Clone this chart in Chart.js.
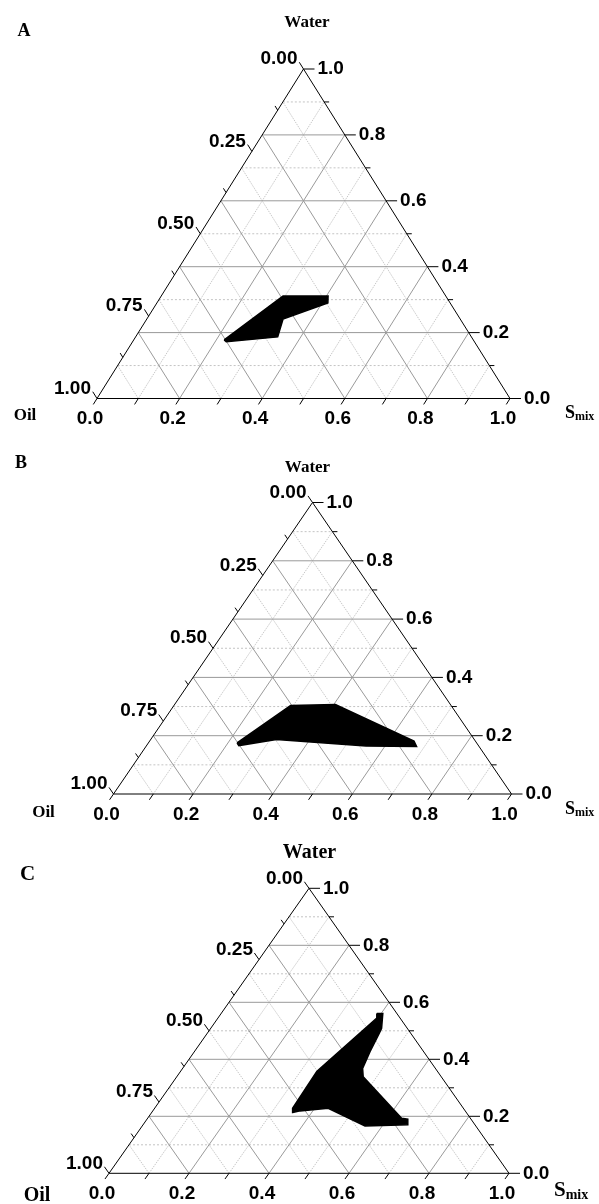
<!DOCTYPE html>
<html>
<head>
<meta charset="utf-8">
<script src="https://cdn.jsdelivr.net/npm/chart.js@4.4.1/dist/chart.umd.min.js"></script>
<style>
  body { margin: 0; background: #fff; }
  .panel { position: absolute; left: 0; }
</style>
</head>
<body>
<canvas id="chartA" class="panel" width="599" height="440" style="top:0px"></canvas>
<canvas id="chartB" class="panel" width="599" height="390" style="top:440px"></canvas>
<canvas id="chartC" class="panel" width="599" height="374" style="top:830px"></canvas>
<script>
// tick labels of the three ternary axes
const oilTickValues = [0, 0.25, 0.5, 0.75, 1];
const oilTickLabels = ['0.00', '0.25', '0.50', '0.75', '1.00'];
const waterTickValues = [1, 0.8, 0.6, 0.4, 0.2, 0];
const waterTickLabels = ['1.0', '0.8', '0.6', '0.4', '0.2', '0.0'];
const smixTickValues = [0, 0.2, 0.4, 0.6, 0.8, 1];
const smixTickLabels = ['0.0', '0.2', '0.4', '0.6', '0.8', '1.0'];

// microemulsion region outlines (water and Smix fractions, oil is the rest)
const waterA = [0.178, 0.311, 0.311, 0.290, 0.241, 0.187, 0.172];
const smixA  = [0.219, 0.295, 0.404, 0.414, 0.330, 0.344, 0.227];

const waterB = [0.175, 0.304, 0.307, 0.182, 0.163, 0.165, 0.187, 0.166];
const smixB  = [0.223, 0.293, 0.404, 0.664, 0.680, 0.552, 0.316, 0.232];

const waterC = [0.561, 0.561, 0.509, 0.491, 0.427, 0.368, 0.339, 0.193, 0.190,
                0.170, 0.166, 0.228, 0.219, 0.213, 0.228, 0.357, 0.365, 0.544];
const smixC  = [0.389, 0.404, 0.427, 0.430, 0.439, 0.450, 0.466, 0.635, 0.652,
                0.662, 0.557, 0.434, 0.368, 0.353, 0.345, 0.341, 0.343, 0.397];

const panels = [
  { id: 'chartA', letter: 'A', water: waterA, smix: smixA, top: 0, h: 440,
    left: 97, right: 510, apex: 69, base: 398.5, title: 17,
    letterPos: [24, 31], waterPos: [307, 23], oilPos: [25, 416], smixPos: [565, 413] },
  { id: 'chartB', letter: 'B', water: waterB, smix: smixB, top: 440, h: 390,
    left: 113.5, right: 511.5, apex: 502.5, base: 794, title: 17,
    letterPos: [21, 463.5], waterPos: [307.5, 467.5], oilPos: [43.5, 813], smixPos: [565, 809] },
  { id: 'chartC', letter: 'C', water: waterC, smix: smixC, top: 830, h: 374,
    left: 109, right: 509, apex: 888.3, base: 1173.3, title: 20,
    letterPos: [27.5, 875], waterPos: [309.5, 852.5], oilPos: [37, 1196], smixPos: [554, 1191] }
];

// ternary -> cartesian (x along the base, y = water)
const toXY = (w, s) => ({ x: s + w / 2, y: w });

function gridLines(major, horizontal) {
  const pts = [];
  for (let k = 1; k <= 9; k++) {
    if ((k % 2 === 0) !== major) continue;
    const t = k / 10;
    if (horizontal) {
      pts.push(toXY(t, 0), toXY(t, 1 - t), { x: 0, y: null });
    } else {
      pts.push(toXY(0, t), toXY(1 - t, t), { x: 0, y: null });
      pts.push(toXY(0, 1 - t), toXY(1 - t, 0), { x: 0, y: null });
    }
  }
  return pts;
}

const ternaryAxes = {
  id: 'ternaryAxes',
  afterDatasetsDraw(chart, args, o) {
    const { ctx, scales: { x, y } } = chart;
    const px = (w, s) => [x.getPixelForValue(s + w / 2), y.getPixelForValue(w)];
    const apex = px(1, 0), oilC = px(0, 0), smC = px(0, 1);
    const unit = (a, b) => {
      const dx = b[0] - a[0], dy = b[1] - a[1], l = Math.hypot(dx, dy);
      return [dx / l, dy / l];
    };
    const upLeft = unit(smC, apex);
    const downLeft = unit(apex, oilC);
    const seg = (p, d, len) => {
      ctx.beginPath();
      ctx.moveTo(p[0], p[1]);
      ctx.lineTo(p[0] + d[0] * len, p[1] + d[1] * len);
      ctx.stroke();
    };
    ctx.save();
    ctx.strokeStyle = '#000';
    ctx.lineWidth = 1;
    for (let k = 0; k <= 8; k++) seg(px(1 - k / 8, 0), upLeft, k % 2 ? 5 : 8);
    for (let k = 0; k <= 10; k++) seg(px(k / 10, 1 - k / 10), [1, 0], k % 2 ? 5 : 11);
    for (let k = 0; k <= 10; k++) seg(px(0, k / 10), downLeft, 7);

    ctx.fillStyle = '#000';
    ctx.font = 'bold 19px "Liberation Sans", Arial, sans-serif';
    ctx.textBaseline = 'middle';
    ctx.textAlign = 'right';
    oilTickValues.forEach((v, i) => {
      const p = px(1 - v, 0);
      ctx.fillText(oilTickLabels[i], p[0] - 6, p[1] - 10);
    });
    ctx.textAlign = 'left';
    waterTickValues.forEach((v, i) => {
      const p = px(v, 1 - v);
      ctx.fillText(waterTickLabels[i], p[0] + 14, p[1]);
    });
    ctx.textAlign = 'center';
    smixTickValues.forEach((v, i) => {
      const p = px(0, v);
      ctx.fillText(smixTickLabels[i], p[0] - 7, p[1] + 20.5);
    });

    const serif = sz => `bold ${sz}px "Liberation Serif", "Times New Roman", serif`;
    const t = o.top;
    ctx.font = serif(o.title + 1);
    ctx.fillText(o.letter, o.letterPos[0], o.letterPos[1] - t);
    ctx.font = serif(o.title);
    ctx.fillText('Water', o.waterPos[0], o.waterPos[1] - t);
    ctx.fillText('Oil', o.oilPos[0], o.oilPos[1] - t);
    ctx.textAlign = 'left';
    ctx.font = serif(o.title + 1);
    ctx.fillText('S', o.smixPos[0], o.smixPos[1] - t);
    const sw = ctx.measureText('S').width;
    ctx.font = serif(Math.round(o.title * 0.68));
    ctx.fillText('mix', o.smixPos[0] + sw, o.smixPos[1] - t + 4);
    ctx.restore();
  }
};

panels.forEach(p => {
  const outline = p.water.map((w, i) => toXY(w, p.smix[i]));
  outline.push(outline[0]);
  const frame = [toXY(0, 0), toXY(0, 1), toXY(1, 0), toXY(0, 0)];
  const line = (data, color, dash, order) => ({
    data, fill: false, borderColor: color, borderWidth: 1, borderDash: dash,
    pointRadius: 0, tension: 0, spanGaps: false, order
  });

  new Chart(document.getElementById(p.id), {
    type: 'line',
    data: {
      datasets: [
        { data: outline, fill: 'shape', backgroundColor: '#000', borderColor: '#000',
          borderWidth: 1.5, pointRadius: 0, tension: 0, order: 0 },
        { ...line(frame, '#000', [], 1), clip: false },
        line(gridLines(true, true), '#999', [], 2),
        line(gridLines(true, false), '#9a9a9a', [], 3),
        line(gridLines(false, false), '#c8c8c8', [1.5, 1], 4),
        line(gridLines(false, true), '#c4c4c4', [2, 2], 5)
      ]
    },
    options: {
      responsive: false,
      animation: false,
      events: [],
      layout: {
        padding: { left: p.left, right: 599 - p.right, top: p.apex - p.top, bottom: p.top + p.h - p.base }
      },
      scales: {
        x: { type: 'linear', min: 0, max: 1, display: false },
        y: { type: 'linear', min: 0, max: 1, display: false }
      },
      plugins: {
        legend: { display: false },
        tooltip: { enabled: false },
        ternaryAxes: p
      }
    },
    plugins: [ternaryAxes]
  });
});
</script>
</body>
</html>
